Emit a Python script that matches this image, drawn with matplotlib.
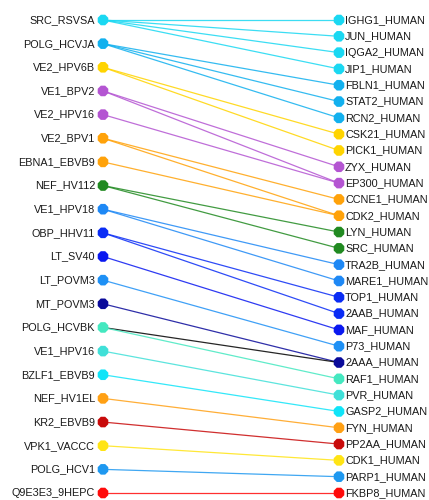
import numpy as np
import matplotlib.pyplot as plt

plt.rcParams['font.family'] = ['Liberation Sans', 'DejaVu Sans']

# -------- viral proteins (left column) --------
viral = ["SRC_RSVSA", "POLG_HCVJA", "VE2_HPV6B", "VE1_BPV2", "VE2_HPV16",
         "VE2_BPV1", "EBNA1_EBVB9", "NEF_HV112", "VE1_HPV18", "OBP_HHV11",
         "LT_SV40", "LT_POVM3", "MT_POVM3", "POLG_HCVBK", "VE1_HPV16",
         "BZLF1_EBVB9", "NEF_HV1EL", "KR2_EBVB9", "VPK1_VACCC", "POLG_HCV1",
         "Q9E3E3_9HEPC"]
viral_colors = ["#1ad8f2", "#12b0ee", "#ffd400", "#b455d2", "#b455d2",
                "#ffa20a", "#ffa20a", "#218a21", "#1e88f5", "#0a2cf5",
                "#0a18f0", "#1e90f5", "#0a0a9a", "#44e8c0", "#40e0d8",
                "#10e4f8", "#ffa014", "#c80a0a", "#ffe414", "#1e98f0",
                "#ff0a0a"]

# -------- human proteins (right column) --------
human = ["IGHG1_HUMAN", "JUN_HUMAN", "IQGA2_HUMAN", "JIP1_HUMAN", "FBLN1_HUMAN",
         "STAT2_HUMAN", "RCN2_HUMAN", "CSK21_HUMAN", "PICK1_HUMAN", "ZYX_HUMAN",
         "EP300_HUMAN", "CCNE1_HUMAN", "CDK2_HUMAN", "LYN_HUMAN", "SRC_HUMAN",
         "TRA2B_HUMAN", "MARE1_HUMAN", "TOP1_HUMAN", "2AAB_HUMAN", "MAF_HUMAN",
         "P73_HUMAN", "2AAA_HUMAN", "RAF1_HUMAN", "PVR_HUMAN", "GASP2_HUMAN",
         "FYN_HUMAN", "PP2AA_HUMAN", "CDK1_HUMAN", "PARP1_HUMAN", "FKBP8_HUMAN"]
human_colors = ["#1ad8f2", "#1ad8f2", "#1ad8f2", "#1ad8f2", "#12b0ee",
                "#12b0ee", "#12b0ee", "#ffd400", "#ffd400", "#b455d2",
                "#b455d2", "#ffa20a", "#ffa20a", "#218a21", "#218a21",
                "#1e88f5", "#1e88f5", "#0a2cf5", "#0a2cf5", "#0a18f0",
                "#1e90f5", "#0a0a9a", "#44e8c0", "#40e0d8", "#10e4f8",
                "#ffa014", "#c80a0a", "#ffe414", "#1e98f0", "#ff0a0a"]

# -------- interactions (viral -> human) --------
edges = [
    ("SRC_RSVSA", "IGHG1_HUMAN"), ("SRC_RSVSA", "JUN_HUMAN"),
    ("SRC_RSVSA", "IQGA2_HUMAN"), ("SRC_RSVSA", "JIP1_HUMAN"),
    ("POLG_HCVJA", "FBLN1_HUMAN"), ("POLG_HCVJA", "STAT2_HUMAN"),
    ("POLG_HCVJA", "RCN2_HUMAN"),
    ("VE2_HPV6B", "CSK21_HUMAN"), ("VE2_HPV6B", "PICK1_HUMAN"),
    ("VE1_BPV2", "ZYX_HUMAN"), ("VE1_BPV2", "EP300_HUMAN"),
    ("VE2_HPV16", "EP300_HUMAN"),
    ("VE2_BPV1", "CCNE1_HUMAN"), ("VE2_BPV1", "CDK2_HUMAN"),
    ("EBNA1_EBVB9", "CDK2_HUMAN"),
    ("NEF_HV112", "LYN_HUMAN"), ("NEF_HV112", "SRC_HUMAN"),
    ("VE1_HPV18", "TRA2B_HUMAN"), ("VE1_HPV18", "MARE1_HUMAN"),
    ("OBP_HHV11", "TOP1_HUMAN"), ("OBP_HHV11", "2AAB_HUMAN"),
    ("LT_SV40", "MAF_HUMAN"),
    ("LT_POVM3", "P73_HUMAN"),
    ("MT_POVM3", "2AAA_HUMAN"),
    ("POLG_HCVBK", "2AAA_HUMAN"), ("POLG_HCVBK", "RAF1_HUMAN"),
    ("VE1_HPV16", "PVR_HUMAN"),
    ("BZLF1_EBVB9", "GASP2_HUMAN"),
    ("NEF_HV1EL", "FYN_HUMAN"),
    ("KR2_EBVB9", "PP2AA_HUMAN"),
    ("VPK1_VACCC", "CDK1_HUMAN"),
    ("POLG_HCV1", "PARP1_HUMAN"),
    ("Q9E3E3_9HEPC", "FKBP8_HUMAN"),
]
# one edge drawn in black instead of the source colour
black_edges = [("POLG_HCVBK", "2AAA_HUMAN")]

# -------- layout --------
X_LEFT, X_RIGHT = 103, 339
left_y = dict(zip(viral, np.linspace(20, 493, len(viral))))
right_y = dict(zip(human, np.linspace(20, 493, len(human))))
left_col = dict(zip(viral, viral_colors))

fig = plt.figure(figsize=(4.29, 5.0), dpi=100)
ax = fig.add_axes([0, 0, 1, 1])
ax.set_xlim(0, 429)
ax.set_ylim(500, 0)
ax.axis("off")

for src, dst in edges:
    c = "black" if (src, dst) in black_edges else left_col[src]
    ax.plot([X_LEFT, X_RIGHT], [left_y[src], right_y[dst]], color=c,
            lw=0.9, alpha=0.85, zorder=1, solid_capstyle="butt")

ax.scatter([X_LEFT] * len(viral), [left_y[v] for v in viral], s=68,
           marker="8", c=viral_colors, edgecolors="none", zorder=3)
ax.scatter([X_RIGHT] * len(human), [right_y[h] for h in human], s=68,
           marker="8", c=human_colors, edgecolors="none", zorder=3)

for v in viral:
    ax.text(X_LEFT - 8, left_y[v], v, ha="right", va="center",
            fontsize=7.8, color="#1a1a1a")
for h in human:
    ax.text(X_RIGHT + 6, right_y[h], h, ha="left", va="center",
            fontsize=7.8, color="#1a1a1a")

fig.savefig("out.png", dpi=100)
